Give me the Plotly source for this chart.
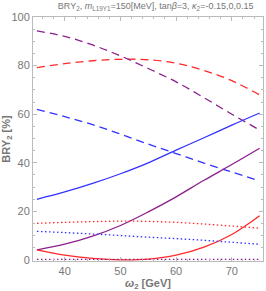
import plotly.graph_objects as go

omega = [35, 40, 45, 50, 55, 60, 65, 70, 75]

# kappa2 = -0.15 (red), 0 (blue), 0.15 (purple) ; dashed / solid / dotted sets
red_dashed = [79.2, 80.8, 82.0, 82.6, 82.4, 81.0, 78.0, 73.8, 67.9]
purple_dashed = [94.3, 92.0, 88.5, 84.0, 78.8, 73.3, 66.8, 60.0, 53.5]
blue_dashed = [62.0, 59.0, 55.7, 51.8, 47.7, 43.8, 39.9, 36.2, 32.5]
blue_solid = [25.0, 28.0, 31.5, 35.5, 40.0, 45.2, 50.3, 55.5, 60.5]
purple_solid = [4.2, 6.5, 9.8, 14.2, 19.8, 26.0, 32.8, 39.3, 46.0]
red_solid = [4.2, 2.0, 0.7, 0.1, 0.4, 2.0, 5.3, 10.5, 18.2]
red_dotted = [15.1, 15.5, 15.8, 16.0, 15.9, 15.5, 14.8, 14.0, 13.1]
blue_dotted = [11.8, 11.3, 10.7, 10.1, 9.4, 8.8, 8.1, 7.3, 6.5]
purple_dotted = [0.3, 0.3, 0.3, 0.3, 0.3, 0.3, 0.3, 0.3, 0.3]

x_ticks = [40, 50, 60, 70]
y_ticks = [0, 20, 40, 60, 80, 100]

RED = "rgb(255,40,40)"
BLUE = "rgb(50,50,255)"
PURPLE = "rgb(140,30,140)"

DASH = "8px,5px"
DOT = "1.5px,2.5px"

series = [
    (red_dashed, RED, DASH),
    (purple_dashed, PURPLE, DASH),
    (blue_dashed, BLUE, DASH),
    (blue_solid, BLUE, "solid"),
    (purple_solid, PURPLE, "solid"),
    (red_solid, RED, "solid"),
    (red_dotted, RED, DOT),
    (blue_dotted, BLUE, DOT),
    (purple_dotted, PURPLE, DOT),
]

fig = go.Figure()
for ys, col, dash in series:
    fig.add_trace(go.Scatter(x=omega, y=ys, mode="lines", line_shape="spline",
                             line=dict(color=col, width=1.3, dash=dash),
                             showlegend=False, hoverinfo="skip"))

axis_common = dict(
    showgrid=False, zeroline=False, showline=True, linecolor="#bbbbbb", linewidth=1,
    mirror="allticks", ticks="inside", ticklen=4, tickcolor="#bbbbbb",
    tickfont=dict(family="Liberation Sans, Arial", size=11, color="#777777"),
)

fig.update_layout(
    width=266, height=291,
    margin=dict(l=32, r=2, t=17, b=30),
    paper_bgcolor="white", plot_bgcolor="white",
    title=dict(text="BRY<sub>2</sub>, <i>m</i><sub>L19Y1</sub>=150[MeV], tan<i>β</i>=3, <i>κ</i><sub>2</sub>=-0.15,0,0.15",
               x=0.585, xanchor="center", y=0.99, yanchor="top",
               font=dict(family="Liberation Sans, Arial", size=9, color="#777777")),
    xaxis=dict(range=[34.3, 75.6], tickvals=x_ticks,
               minor=dict(dtick=2, ticks="inside", ticklen=2, tickcolor="#bbbbbb"),
               title=dict(text="<b><i>ω</i><sub>2</sub> [GeV]</b>", standoff=4,
                          font=dict(family="Liberation Sans, Arial", size=11, color="#777777")),
               **axis_common),
    yaxis=dict(range=[-0.4, 100], tickvals=y_ticks,
               minor=dict(dtick=5, ticks="inside", ticklen=2, tickcolor="#bbbbbb"),
               title=dict(text="<b>BRY<sub>2</sub> [%]</b>", standoff=2,
                          font=dict(family="Liberation Sans, Arial", size=11, color="#777777")),
               **axis_common),
)

fig.write_html("out.html", config={"displayModeBar": False},
               post_script="document.body.style.margin='0';")
